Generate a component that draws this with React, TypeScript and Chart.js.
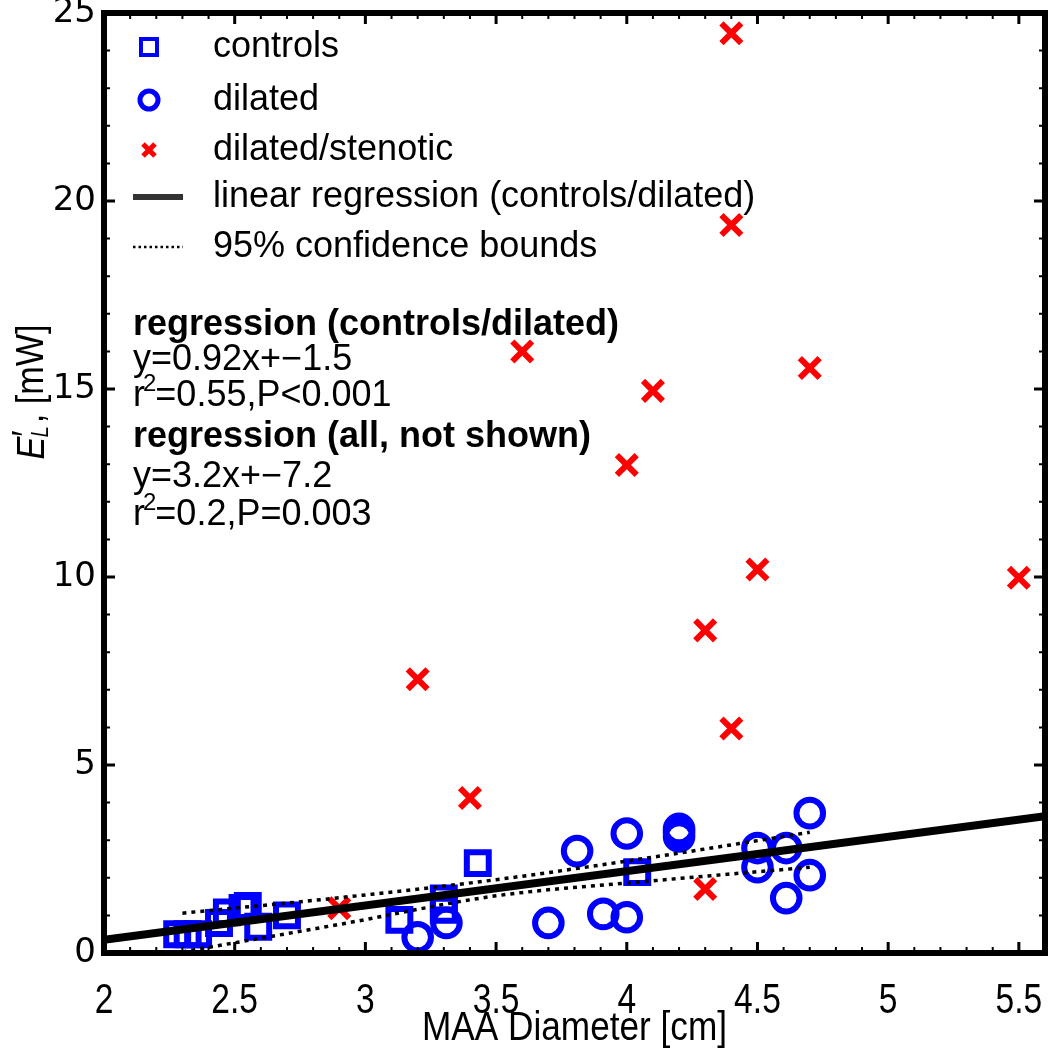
import React, { useEffect, useRef } from 'react';
import { Chart, registerables } from 'chart.js';

Chart.register(...registerables);

// ---------- data ----------
const controlsX = [2.28, 2.32, 2.36, 2.44, 2.47, 2.53, 2.55, 2.59, 2.70, 3.13, 3.30, 3.30, 3.43, 4.04];
const controlsY = [0.50, 0.50, 0.50, 0.80, 1.08, 1.20, 1.25, 0.70, 1.00, 0.88, 1.45, 1.15, 2.39, 2.15];

const dilatedX = [3.20, 3.31, 3.70, 3.81, 3.91, 4.00, 4.00, 4.20, 4.20, 4.20, 4.50, 4.50, 4.61, 4.61, 4.70, 4.70];
const dilatedY = [0.42, 0.80, 0.80, 2.71, 1.04, 0.95, 3.18, 3.30, 3.20, 3.10, 2.79, 2.28, 2.79, 1.46, 3.72, 2.07];

const stenoticX = [2.90, 3.20, 3.40, 3.60, 4.00, 4.10, 4.30, 4.30, 4.40, 4.40, 4.40, 4.50, 4.70, 5.50];
const stenoticY = [1.19, 7.28, 4.12, 16.0, 12.98, 14.95, 8.58, 1.70, 5.97, 19.36, 24.46, 10.2, 15.56, 9.98];

const regX = [2.0, 5.6];
const regY = [0.35, 3.64];

const boundX = [2.3, 2.9, 3.5, 4.1, 4.7];
const upperY = [1.06, 1.47, 1.95, 2.55, 3.21];
const lowerY = [0.03, 0.76, 1.52, 1.92, 2.28];

const xTickValues = [2, 2.5, 3, 3.5, 4, 4.5, 5, 5.5];
const yTickValues = [0, 5, 10, 15, 20, 25];

const legendLabels = ['controls', 'dilated', 'dilated/stenotic', 'linear regression (controls/dilated)', '95% confidence bounds'];
const annotationLines = [
  'regression (controls/dilated)',
  'y=0.92x+\u22121.5',
  '=0.55,P<0.001',
  'regression (all, not shown)',
  'y=3.2x+\u22127.2',
  '=0.2,P=0.003',
];

const xTitle = 'MAA Diameter [cm]';

const BLUE = '#0000ff';
const RED = '#ff0000';
const SANS = '"Liberation Sans", Arial, sans-serif';

const pts = (xs: number[], ys: number[]) => xs.map((x, i) => ({ x, y: ys[i] }));

const framePlugin = {
  id: 'frame',
  afterDraw(chart: any) {
    const { ctx, chartArea: a } = chart;
    const xs = chart.scales.x;
    const ys = chart.scales.y;
    ctx.save();
    ctx.strokeStyle = '#000';
    for (let i = 0; i <= 36; i++) {
      const v = 2 + i * 0.1;
      const px = xs.getPixelForValue(v);
      const major = i % 5 === 0;
      const len = major ? 11 : 6;
      ctx.lineWidth = major ? 3 : 2;
      ctx.beginPath();
      ctx.moveTo(px, a.bottom);
      ctx.lineTo(px, a.bottom - len);
      ctx.moveTo(px, a.top);
      ctx.lineTo(px, a.top + len);
      ctx.stroke();
    }
    for (let v = 0; v <= 25; v++) {
      const py = ys.getPixelForValue(v);
      const major = v % 5 === 0;
      const len = major ? 11 : 6;
      ctx.lineWidth = major ? 3 : 2;
      ctx.beginPath();
      ctx.moveTo(a.left, py);
      ctx.lineTo(a.left + len, py);
      ctx.moveTo(a.right, py);
      ctx.lineTo(a.right - len, py);
      ctx.stroke();
    }
    ctx.lineWidth = 6;
    ctx.strokeRect(a.left, a.top, a.right - a.left, a.bottom - a.top);

    // x tick labels (condensed like the reference), placed by the x scale
    ctx.fillStyle = '#000';
    ctx.textAlign = 'center';
    ctx.textBaseline = 'middle';
    ctx.font = `42px ${SANS}`;
    xTickValues.forEach((v) => {
      const px = xs.getPixelForValue(v);
      ctx.save();
      ctx.translate(px, 1001);
      ctx.scale(0.8, 1);
      ctx.fillText(String(v), 0, 0);
      ctx.restore();
    });
    // x title
    ctx.save();
    ctx.translate((a.left + a.right) / 2, 1029);
    ctx.scale(0.88, 1);
    ctx.font = `40px ${SANS}`;
    ctx.fillText(xTitle, 0, 0);
    ctx.restore();
    ctx.restore();
  },
};

const overlayPlugin = {
  id: 'overlay',
  afterDraw(chart: any) {
    const { ctx } = chart;
    ctx.save();
    // ---- legend ----
    const rows = [47, 100, 150, 197, 247];
    const mx = 149;
    ctx.textBaseline = 'middle';
    ctx.textAlign = 'left';
    ctx.strokeStyle = BLUE;
    ctx.lineWidth = 4;
    ctx.strokeRect(mx - 8, rows[0] - 8, 16, 16);
    ctx.lineWidth = 5;
    ctx.beginPath();
    ctx.arc(mx, rows[1], 9, 0, Math.PI * 2);
    ctx.stroke();
    ctx.strokeStyle = RED;
    ctx.lineWidth = 5;
    ctx.beginPath();
    ctx.moveTo(mx - 6, rows[2] - 6);
    ctx.lineTo(mx + 6, rows[2] + 6);
    ctx.moveTo(mx + 6, rows[2] - 6);
    ctx.lineTo(mx - 6, rows[2] + 6);
    ctx.stroke();
    ctx.strokeStyle = '#333';
    ctx.lineWidth = 6;
    ctx.beginPath();
    ctx.moveTo(133, rows[3]);
    ctx.lineTo(183, rows[3]);
    ctx.stroke();
    ctx.strokeStyle = '#000';
    ctx.lineWidth = 2.5;
    ctx.setLineDash([2.5, 3]);
    ctx.beginPath();
    ctx.moveTo(133, rows[4]);
    ctx.lineTo(183, rows[4]);
    ctx.stroke();
    ctx.setLineDash([]);

    ctx.fillStyle = '#000';
    ctx.font = `36px ${SANS}`;
    legendLabels.forEach((t, i) => ctx.fillText(t, 213, rows[i]));

    // ---- annotation ----
    const ax = 133;
    const ay = [325, 360, 396, 437, 477, 515];
    const bold = `bold 36px ${SANS}`;
    const reg = `36px ${SANS}`;
    const sup = `24px ${SANS}`;
    annotationLines.forEach((t, i) => {
      if (i === 0 || i === 3) {
        ctx.font = bold;
        ctx.fillText(t, ax, ay[i]);
      } else if (i === 1 || i === 4) {
        ctx.font = reg;
        ctx.fillText(t, ax, ay[i]);
      } else {
        ctx.font = reg;
        ctx.fillText('r', ax, ay[i]);
        const wr = ctx.measureText('r').width;
        ctx.font = sup;
        ctx.fillText('2', ax + wr - 2, ay[i] - 12);
        const w2 = ctx.measureText('2').width;
        ctx.font = reg;
        ctx.fillText(t, ax + wr + w2 - 3, ay[i]);
      }
    });

    // ---- y axis title: E_L', [mW] ----
    ctx.save();
    ctx.translate(33, 392);
    ctx.rotate(-Math.PI / 2);
    ctx.scale(0.9, 1);
    ctx.textBaseline = 'middle';
    const fE = `italic 38px ${SANS}`;
    const fL = `italic 23px ${SANS}`;
    const fR = `38px ${SANS}`;
    ctx.font = fE; const wE = ctx.measureText('E').width;
    ctx.font = fL; const wL = ctx.measureText('L').width;
    ctx.font = fR; const wP = ctx.measureText('\u2032').width;
    const wRest = ctx.measureText(', [mW]').width;
    const total = wE + Math.max(wL, wP) + 2 + wRest;
    let x = -total / 2;
    ctx.font = fE; ctx.fillText('E', x, 0); x += wE;
    ctx.font = fR; ctx.fillText('\u2032', x, -4);
    ctx.font = fL; ctx.fillText('L', x - 1, 9);
    x += Math.max(wL, wP) + 2;
    ctx.font = fR; ctx.fillText(', [mW]', x, 0);
    ctx.restore();

    ctx.restore();
  },
};

export default function App() {
  const ref = useRef<HTMLCanvasElement>(null);
  useEffect(() => {
    const canvas = ref.current;
    if (!canvas) return;
    const chart = new Chart(canvas, {
      type: 'scatter',
      data: {
        datasets: [
          {
            label: 'linear regression (controls/dilated)',
            data: pts(regX, regY),
            showLine: true,
            borderColor: '#000',
            borderWidth: 8,
            pointRadius: 0,
            fill: false,
          },
          {
            label: '95% upper',
            data: pts(boundX, upperY),
            showLine: true,
            borderColor: '#000',
            borderWidth: 3.5,
            borderDash: [4, 5],
            cubicInterpolationMode: 'monotone',
            pointRadius: 0,
            fill: false,
          },
          {
            label: '95% lower',
            data: pts(boundX, lowerY),
            showLine: true,
            borderColor: '#000',
            borderWidth: 3.5,
            borderDash: [4, 5],
            cubicInterpolationMode: 'monotone',
            pointRadius: 0,
            fill: false,
          },
          {
            label: 'dilated/stenotic',
            data: pts(stenoticX, stenoticY),
            pointStyle: 'crossRot',
            pointRadius: 14,
            borderColor: RED,
            borderWidth: 6,
            backgroundColor: RED,
          },
          {
            label: 'dilated',
            data: pts(dilatedX, dilatedY),
            pointStyle: 'circle',
            pointRadius: 13.3,
            borderColor: BLUE,
            borderWidth: 6,
            backgroundColor: 'rgba(0,0,0,0)',
          },
          {
            label: 'controls',
            data: pts(controlsX, controlsY),
            pointStyle: 'rect',
            pointRadius: 15.5,
            borderColor: BLUE,
            borderWidth: 6,
            backgroundColor: 'rgba(0,0,0,0)',
          },
        ],
      } as any,
      options: {
        responsive: false,
        animation: false,
        devicePixelRatio: 1,
        events: [],
        layout: { autoPadding: false, padding: { top: 13, right: 5, left: 0, bottom: 0 } },
        plugins: { legend: { display: false }, tooltip: { enabled: false } },
        scales: {
          x: {
            type: 'linear',
            min: 2,
            max: 5.6,
            afterBuildTicks: (s: any) => { s.ticks = xTickValues.map((v) => ({ value: v })); },
            afterFit: (s: any) => {
              s.height = 97;
              s.paddingLeft = 0; s.paddingRight = 0; s.paddingTop = 0; s.paddingBottom = 0;
            },
            grid: { display: false, drawTicks: false },
            border: { display: false },
            ticks: { display: false },
            title: { display: false, text: xTitle },
          },
          y: {
            type: 'linear',
            min: 0,
            max: 25,
            afterBuildTicks: (s: any) => { s.ticks = yTickValues.map((v) => ({ value: v })); },
            afterFit: (s: any) => {
              s.width = 104;
              s.paddingLeft = 0; s.paddingRight = 0; s.paddingTop = 0; s.paddingBottom = 0;
            },
            grid: { display: false, drawTicks: false },
            border: { display: false },
            ticks: {
              color: '#000',
              padding: 8,
              font: { family: '"DejaVu Sans", sans-serif', size: 34 },
              callback: (v: any) => String(v),
              autoSkip: false,
            },
          },
        },
      } as any,
      plugins: [framePlugin, overlayPlugin],
    });
    return () => chart.destroy();
  }, []);

  return (
    <div style={{ position: 'absolute', left: 0, top: 0, width: 1050, height: 1050, background: '#fff' }}>
      <canvas ref={ref} width={1050} height={1050} style={{ width: 1050, height: 1050, display: 'block' }} />
    </div>
  );
}
